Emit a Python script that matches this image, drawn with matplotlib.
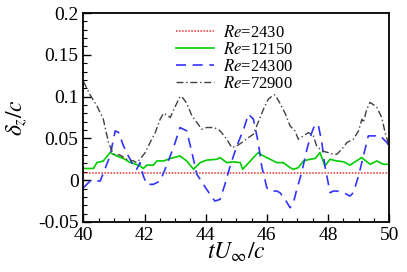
import matplotlib
matplotlib.use("Agg")
import matplotlib.pyplot as plt
from matplotlib.ticker import MultipleLocator

plt.rcParams['font.family'] = ['Liberation Serif', 'DejaVu Serif']
plt.rcParams['mathtext.fontset'] = 'stix'

# data
labels = ["$Re$=2430", "$Re$=12150", "$Re$=24300", "$Re$=72900"]

t_red = [40.0, 42.0, 44.0, 46.0, 48.0, 50.0]
d_red = [0.009, 0.009, 0.009, 0.009, 0.009, 0.009]

t_green = [40.0, 40.33, 40.44, 40.65, 40.87, 40.98, 41.09, 41.31, 41.53, 41.64, 41.85, 41.96,
           42.07, 42.29, 42.4, 42.62, 42.84, 43.16, 43.38, 43.6, 43.82, 44.03, 44.36, 44.47,
           44.69, 44.91, 45.13, 45.21, 45.56, 45.72, 45.89, 46.11, 46.33, 46.54, 46.76, 46.87,
           47.03, 47.2, 47.41, 47.58, 47.74, 47.9, 48.07, 48.29, 48.51, 48.72, 49.1, 49.38,
           49.6, 49.81, 50.0]
d_green = [0.014, 0.014, 0.021, 0.023, 0.033, 0.031, 0.029, 0.026, 0.021, 0.020, 0.017, 0.014,
           0.018, 0.018, 0.023, 0.023, 0.026, 0.029, 0.023, 0.013, 0.021, 0.024, 0.025, 0.027,
           0.021, 0.022, 0.021, 0.013, 0.027, 0.033, 0.029, 0.025, 0.021, 0.021, 0.015, 0.013,
           0.015, 0.023, 0.025, 0.026, 0.033, 0.017, 0.025, 0.023, 0.022, 0.018, 0.027, 0.019,
           0.023, 0.019, 0.019]

t_blue = [40.0, 40.22, 40.55, 40.87, 41.04, 41.15, 41.31, 41.47, 41.64, 41.74, 41.85, 41.96,
          42.07, 42.29, 42.51, 42.67, 42.84, 43.0, 43.16, 43.38, 43.55, 43.71, 43.82, 44.03,
          44.3, 44.47, 44.63, 44.8, 45.02, 45.24, 45.4, 45.56, 45.72, 45.83, 46.0, 46.11,
          46.33, 46.43, 46.6, 46.76, 46.87, 46.98, 47.14, 47.31, 47.47, 47.58, 47.69, 47.8,
          47.9, 48.07, 48.18, 48.29, 48.51, 48.72, 48.83, 49.0, 49.16, 49.32, 49.49, 49.71,
          49.93, 50.0]
d_blue = [-0.009, -0.001, -0.001, 0.029, 0.059, 0.057, 0.041, 0.029, 0.017, 0.013, 0.021, 0.005,
          -0.005, -0.005, -0.001, 0.013, 0.029, 0.045, 0.063, 0.059, 0.033, 0.007, 0.001, -0.011,
          -0.025, -0.023, -0.005, 0.017, 0.041, 0.061, 0.079, 0.073, 0.045, 0.017, -0.009, -0.013,
          -0.013, -0.015, -0.023, -0.033, -0.027, -0.011, 0.009, 0.037, 0.057, 0.067, 0.065, 0.045,
          0.017, -0.015, -0.013, -0.013, -0.015, -0.019, -0.015, 0.005, 0.029, 0.053, 0.053, 0.053,
          0.045, 0.041]

t_gray = [40.0, 40.22, 40.44, 40.65, 40.82, 40.98, 41.2, 41.42, 41.64, 41.74, 41.85, 42.02,
          42.18, 42.35, 42.51, 42.62, 42.73, 42.84, 43.0, 43.16, 43.22, 43.38, 43.55, 43.71,
          43.87, 44.03, 44.25, 44.41, 44.52, 44.69, 44.85, 45.02, 45.18, 45.4, 45.56, 45.67,
          45.89, 46.05, 46.22, 46.27, 46.43, 46.6, 46.76, 46.92, 47.03, 47.2, 47.36, 47.52,
          47.63, 47.8, 48.01, 48.18, 48.29, 48.45, 48.62, 48.83, 49.0, 49.11, 49.16, 49.27,
          49.38, 49.54, 49.6, 49.76, 49.87, 50.0]
d_gray = [0.118, 0.102, 0.089, 0.073, 0.045, 0.031, 0.030, 0.025, 0.023, 0.021, 0.025, 0.033,
          0.045, 0.057, 0.073, 0.080, 0.078, 0.075, 0.088, 0.100, 0.100, 0.092, 0.077, 0.069,
          0.061, 0.063, 0.063, 0.061, 0.057, 0.049, 0.039, 0.041, 0.045, 0.051, 0.055, 0.065,
          0.085, 0.097, 0.102, 0.102, 0.092, 0.080, 0.065, 0.059, 0.049, 0.053, 0.057, 0.053,
          0.041, 0.035, 0.033, 0.031, 0.031, 0.037, 0.045, 0.049, 0.059, 0.073, 0.069, 0.085,
          0.093, 0.089, 0.087, 0.075, 0.057, 0.041]

fig = plt.figure(figsize=(4.07, 2.72), dpi=100)
ax = fig.add_axes([0.205, 0.184, 0.751, 0.768])

ax.plot(t_red, d_red, color='#e8302c', ls=(0, (1, 1)), lw=1.1, label=labels[0])
ax.plot(t_green, d_green, color='#00cc00', ls='-', lw=1.2, label=labels[1])
ax.plot(t_blue, d_blue, color='#3333ff', ls=(0, (6, 4)), lw=1.2, label=labels[2])
ax.plot(t_gray, d_gray, color='#404040', ls=(0, (5, 2, 1, 2)), lw=1.0, label=labels[3])

ax.set_xlim(40, 50)
ax.set_ylim(-0.05, 0.2)
ax.set_xticks([40, 42, 44, 46, 48, 50])
ax.set_yticks([-0.05, 0, 0.05, 0.1, 0.15, 0.2])
ax.set_yticklabels(['-0.05', '0', '0.05', '0.1', '0.15', '0.2'])
ax.xaxis.set_minor_locator(MultipleLocator(0.5))
ax.yaxis.set_minor_locator(MultipleLocator(0.01))
ax.tick_params(which='both', direction='in', top=False, right=False, labelsize=14)
ax.tick_params(which='major', length=6, width=1.0)
ax.tick_params(which='minor', length=3, width=0.8)
for s in ax.spines.values():
    s.set_linewidth(1.3)

ax.set_xlabel(r'$tU_\infty/c$', fontsize=17, labelpad=-2)
ax.set_ylabel(r'$\delta_z/c$', fontsize=17, labelpad=6)

ax.legend(loc='upper left', bbox_to_anchor=(0.27, 0.99), frameon=False, fontsize=12,
          handlelength=2.3, handletextpad=0.5, labelspacing=0.05, borderaxespad=0.2)

fig.savefig('out.png', dpi=100)
